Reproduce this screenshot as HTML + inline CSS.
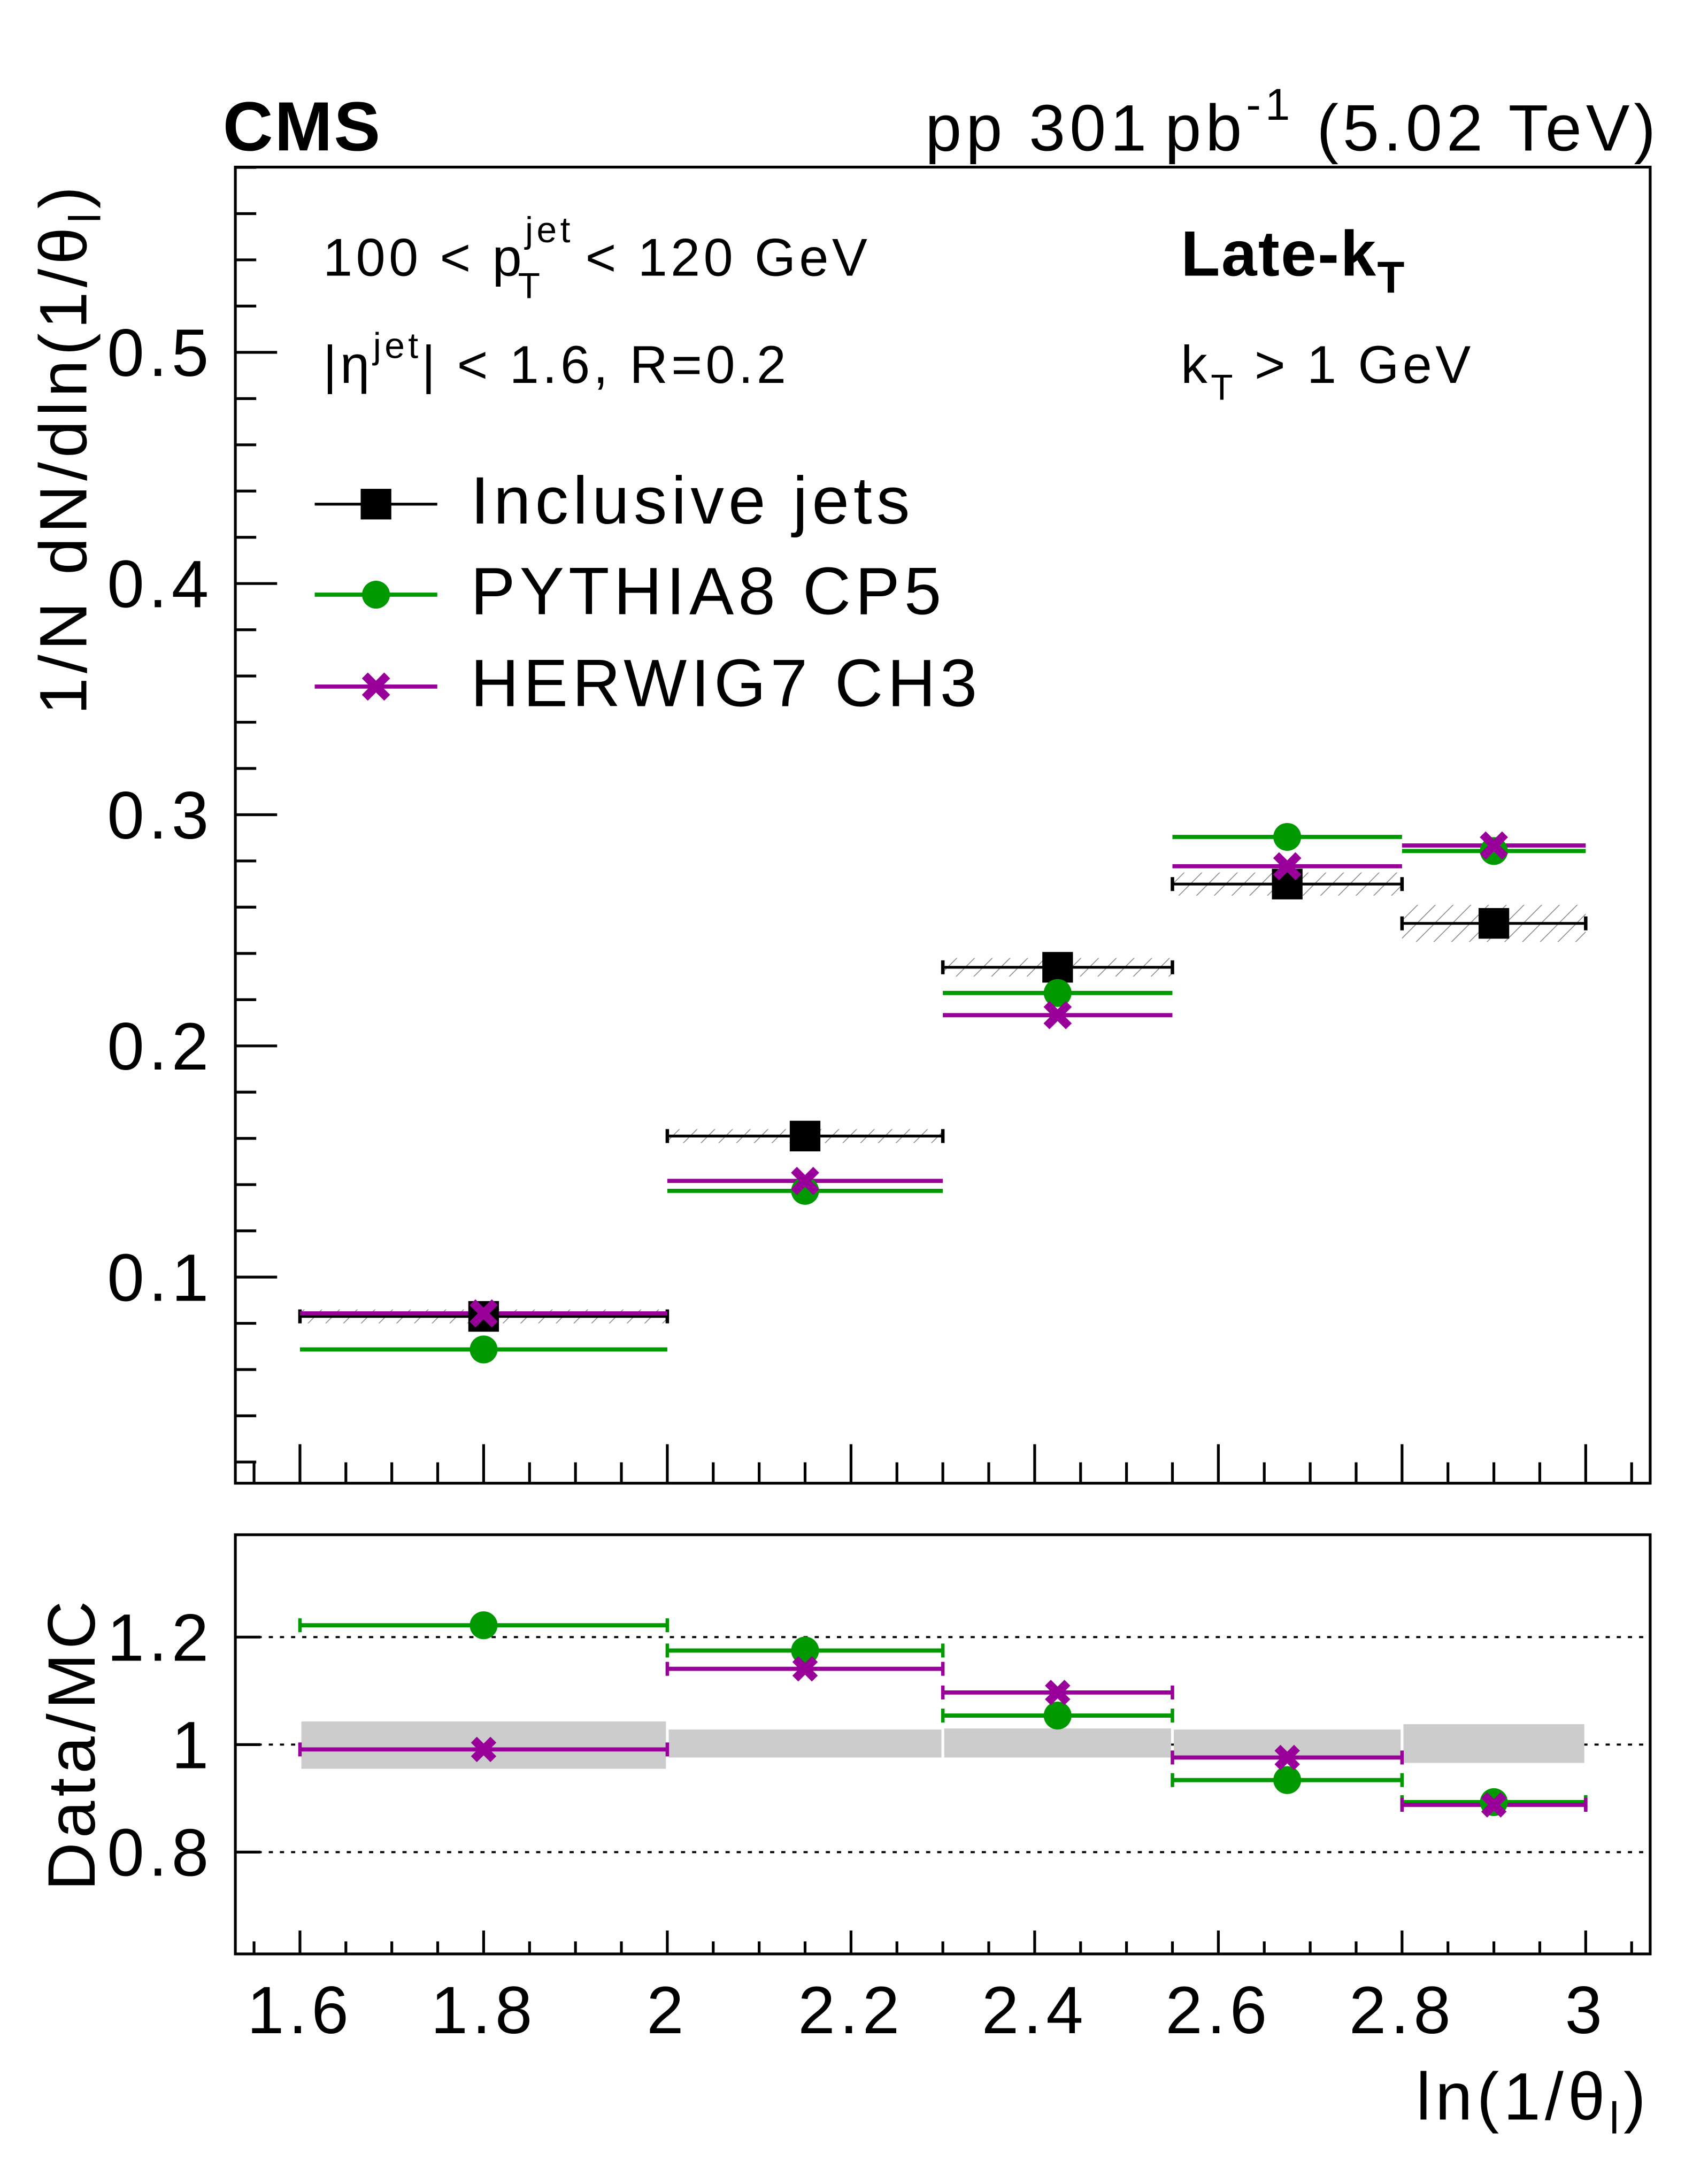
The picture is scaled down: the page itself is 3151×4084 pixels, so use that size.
<!DOCTYPE html>
<html><head><meta charset="utf-8"><style>
html,body{margin:0;padding:0;background:#fff}
svg{display:block}
text{font-family:"Liberation Sans",sans-serif;letter-spacing:0.065em}
</style></head><body>
<svg id="chart" width="3151" height="4084" viewBox="0 0 1210 1568.2" preserveAspectRatio="none" xmlns="http://www.w3.org/2000/svg">
<defs>
<pattern id="hatch" width="9" height="9" patternUnits="userSpaceOnUse" patternTransform="rotate(45)">
<line x1="0" y1="0" x2="0" y2="9" stroke="#888" stroke-width="1.2"/>
</pattern>
</defs>
<g id="topPanel"></g>
<g id="botPanel"></g>
<text x="160" y="108" font-size="50" font-weight="bold" style="letter-spacing:0.02em">CMS</text>
<text x="1192" y="108" font-size="47" text-anchor="end">pp 301<tspan dx="10">pb</tspan><tspan font-size="32" dy="-22">-1</tspan><tspan dy="22"> (5.02 TeV)</tspan></text>
<text transform="translate(62,322) rotate(-90)" font-size="48" text-anchor="middle">1/N dN/dln(1/θ<tspan font-size="32" dy="10">l</tspan><tspan dy="-10">)</tspan></text>
<text transform="translate(68,1252) rotate(-90)" font-size="48" text-anchor="middle">Data/MC</text>
<text x="1185" y="1522" font-size="48" text-anchor="end">ln(1/θ<tspan font-size="32" dy="10">l</tspan><tspan dy="-10">)</tspan></text>
<text x="232" y="198" font-size="38">100 &lt; p<tspan font-size="26" dy="-24">jet</tspan><tspan font-size="26" dx="-40" dy="40">T</tspan><tspan dx="30" dy="-16">&lt; 120 GeV</tspan></text>
<text x="232" y="275" font-size="38">|η<tspan font-size="26" dy="-18">jet</tspan><tspan dy="18">| &lt; 1.6, R=0.2</tspan></text>
<text x="848" y="198" font-size="46" font-weight="bold" style="letter-spacing:0.02em">Late-k<tspan font-size="32" dy="12">T</tspan></text>
<text x="848" y="275" font-size="38">k<tspan font-size="26" dy="12">T</tspan><tspan dy="-12"> &gt; 1 GeV</tspan></text>
<g>
<line x1="226" y1="362" x2="314" y2="362" stroke="#000" stroke-width="2"/>
<rect x="259" y="351" width="22" height="22" fill="#000"/>
<text x="338" y="376" font-size="48">Inclusive jets</text>
<line x1="226" y1="427" x2="314" y2="427" stroke="#009900" stroke-width="3"/>
<circle cx="270" cy="427" r="10" fill="#009900"/>
<text x="338" y="441" font-size="48">PYTHIA8 CP5</text>
<line x1="226" y1="493" x2="314" y2="493" stroke="#990099" stroke-width="3"/>
<path d="M262,485 L278,501 M278,485 L262,501" stroke="#990099" stroke-width="6"/>
<text x="338" y="507" font-size="48">HERWIG7 CH3</text>
</g>
</svg>
<script>
const binLo = [1.6, 2.0, 2.3, 2.55, 2.8];
const binHi = [2.0, 2.3, 2.55, 2.8, 3.0];
const binCenter = [1.8, 2.15, 2.425, 2.675, 2.9];
const dataVals = [0.083, 0.161, 0.234, 0.270, 0.253];
const dataSyst = [0.003, 0.003, 0.004, 0.005, 0.008];
const pythiaVals = [0.0687, 0.1373, 0.2229, 0.2904, 0.2843];
const herwigVals = [0.0843, 0.1416, 0.2133, 0.2777, 0.2867];
const ratioPythia = [1.222, 1.175, 1.054, 0.934, 0.893];
const ratioHerwig = [0.991, 1.141, 1.097, 0.976, 0.888];
const bandHi = [1.043, 1.028, 1.030, 1.028, 1.038];
const bandLo = [0.955, 0.976, 0.976, 0.976, 0.966];
const xTicks = [1.6, 1.8, 2.0, 2.2, 2.4, 2.6, 2.8, 3.0];
const xTickLabels = ["1.6", "1.8", "2", "2.2", "2.4", "2.6", "2.8", "3"];
const yTicks = [0.1, 0.2, 0.3, 0.4, 0.5];
const yTickLabels = ["0.1", "0.2", "0.3", "0.4", "0.5"];
const rTicks = [0.8, 1.0, 1.2];
const rTickLabels = ["0.8", "1", "1.2"];

const NS = "http://www.w3.org/2000/svg";
const L = 169, R = 1185, T1 = 120, B1 = 1065, T2 = 1102, B2 = 1403;
const X = v => 215.4 + (v - 1.6) * 659.5;
const Y = v => 917 - (v - 0.1) * 1660;
const YR = v => 1252.7 - (v - 1) * 386;
function mk(p, tag, a) { const e = document.createElementNS(NS, tag); for (const k in a) e.setAttribute(k, a[k]); p.appendChild(e); return e; }
const topG = document.getElementById('topPanel'), botG = document.getElementById('botPanel');

let f = mk(topG, 'rect', {x: L, y: T1, width: R - L, height: B1 - T1, fill: 'none', stroke: '#000', 'stroke-width': 2});


f = mk(botG, 'rect', {x: L, y: T2, width: R - L, height: B2 - T2, fill: 'none', stroke: '#000', 'stroke-width': 2});



for (let i = 0; i <= 30; i++) {
  const v = 1.55 + i * 0.05; const x = X(v); if (x < L || x > R) continue;
  const r = Math.round(v * 20);
  const major = r % 4 === 0;
  const len = major ? 28 : 15;
  mk(topG, 'line', {x1: x, y1: B1, x2: x, y2: B1 - len, stroke: '#000', 'stroke-width': 2});
  mk(botG, 'line', {x1: x, y1: B2, x2: x, y2: B2 - len * 0.6, stroke: '#000', 'stroke-width': 2});
}
xTicks.forEach((v, i) => {
  const t = mk(botG, 'text', {x: X(v), y: 1460, 'font-size': 48, 'text-anchor': 'middle'});
  t.textContent = xTickLabels[i];
  
  
});
for (let i = 0; i <= 40; i++) {
  const v = 0.02 + i * 0.02; const y = Y(v); if (y < T1 || y > B1) continue;
  const major = Math.round(v * 50) % 5 === 0;
  mk(topG, 'line', {x1: L, y1: y, x2: L + (major ? 30 : 15), y2: y, stroke: '#000', 'stroke-width': 2});
}
yTicks.forEach((v, i) => {
  const t = mk(topG, 'text', {x: 153, y: Y(v) + 17, 'font-size': 48, 'text-anchor': 'end'});
  t.textContent = yTickLabels[i];
  
  
});
rTicks.forEach((v, i) => {
  const g = mk(botG, 'line', {x1: L, y1: YR(v), x2: R, y2: YR(v), stroke: '#000', 'stroke-width': 1.5, 'stroke-dasharray': '3,5'});
  
  
  mk(botG, 'line', {x1: L, y1: YR(v), x2: L + 18, y2: YR(v), stroke: '#000', 'stroke-width': 2});
  const t = mk(botG, 'text', {x: 153, y: YR(v) + 17, 'font-size': 48, 'text-anchor': 'end'});
  t.textContent = rTickLabels[i];
  
  
});

function xmark(p, cx, cy, col, s) {
  return mk(p, 'path', {d: `M${cx - s},${cy - s} L${cx + s},${cy + s} M${cx + s},${cy - s} L${cx - s},${cy + s}`, stroke: col, 'stroke-width': 6});
}
function hbar(p, i, y, col, w, caps) {
  const l = mk(p, 'line', {x1: X(binLo[i]), y1: y, x2: X(binHi[i]), y2: y, stroke: col, 'stroke-width': w});
  if (caps) {
    mk(p, 'line', {x1: X(binLo[i]), y1: y - 5, x2: X(binLo[i]), y2: y + 5, stroke: col, 'stroke-width': 2.5});
    mk(p, 'line', {x1: X(binHi[i]), y1: y - 5, x2: X(binHi[i]), y2: y + 5, stroke: col, 'stroke-width': 2.5});
  }
  return l;
}

binLo.forEach((_, i) => {
  const h = mk(topG, 'rect', {x: X(binLo[i]), y: Y(dataVals[i] + dataSyst[i]), width: X(binHi[i]) - X(binLo[i]), height: Y(dataVals[i] - dataSyst[i]) - Y(dataVals[i] + dataSyst[i]), fill: 'url(#hatch)'});
  
  
  const d = hbar(topG, i, Y(dataVals[i]), '#000', 2, true);
  
  
  const pl = hbar(topG, i, Y(pythiaVals[i]), '#009900', 3, false);
  
  
  const hl = hbar(topG, i, Y(herwigVals[i]), '#990099', 3, false);
  
  
});
binLo.forEach((_, i) => {
  const sq = mk(topG, 'rect', {x: X(binCenter[i]) - 11, y: Y(dataVals[i]) - 11, width: 22, height: 22, fill: '#000'});
  
  
  const c = mk(topG, 'circle', {cx: X(binCenter[i]), cy: Y(pythiaVals[i]), r: 10, fill: '#009900'});
  
  
  const x = xmark(topG, X(binCenter[i]), Y(herwigVals[i]), '#990099', 8);
  
  
});

binLo.forEach((_, i) => {
  const b = mk(botG, 'rect', {x: X(binLo[i]) + 1, y: YR(bandHi[i]), width: X(binHi[i]) - X(binLo[i]) - 2, height: YR(bandLo[i]) - YR(bandHi[i]), fill: '#cccccc'});
  
  
});
binLo.forEach((_, i) => {
  const pl = hbar(botG, i, YR(ratioPythia[i]), '#009900', 3, true);
  
  
  const hl = hbar(botG, i, YR(ratioHerwig[i]), '#990099', 3, true);
  
  
  const c = mk(botG, 'circle', {cx: X(binCenter[i]), cy: YR(ratioPythia[i]), r: 10, fill: '#009900'});
  
  
  const x = xmark(botG, X(binCenter[i]), YR(ratioHerwig[i]), '#990099', 7);
  
  
});
</script>
</body></html>
